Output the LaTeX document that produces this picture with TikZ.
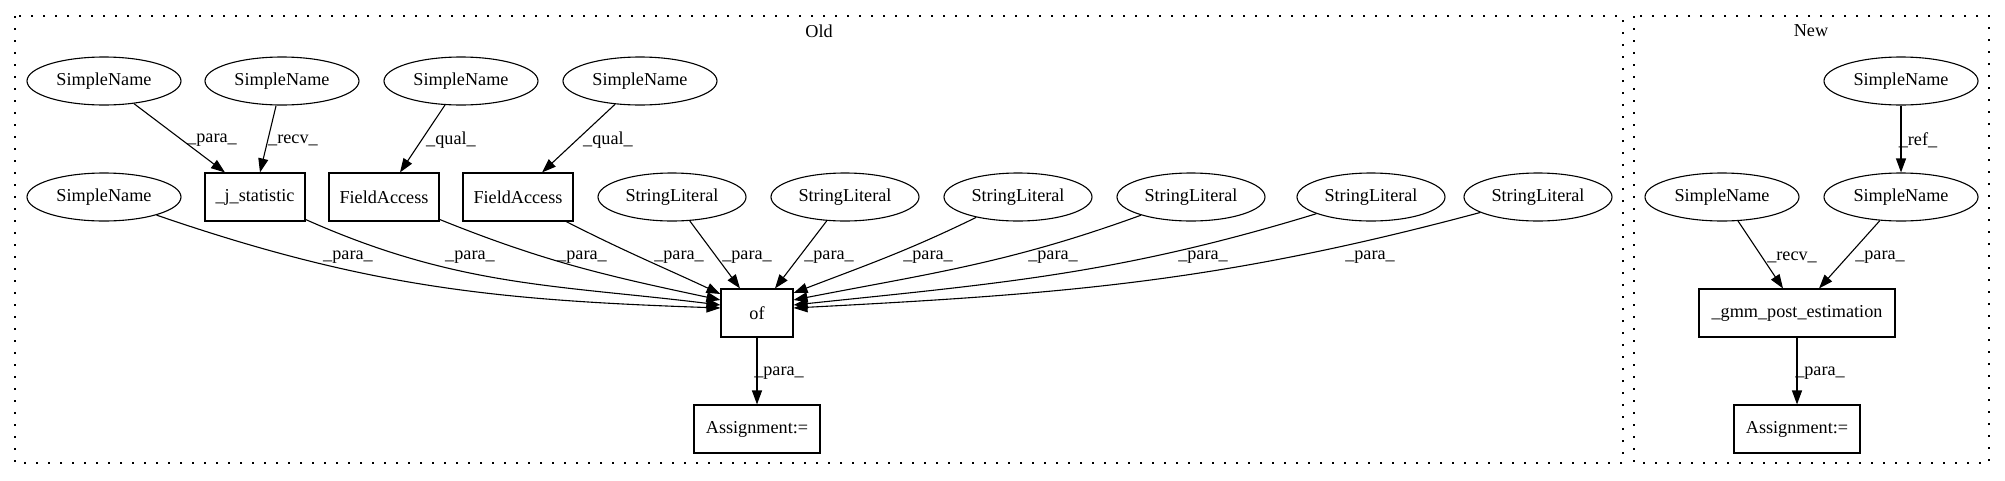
\documentclass[tikz,border=0pt]{standalone}
\usepackage{fontspec}
\setmainfont{Liberation Serif}
\usetikzlibrary{shapes.geometric,arrows.meta}

\begin{document}
\begin{tikzpicture}[x=1pt,y=-1pt,
	font=\fontsize{18.2}{22}\selectfont,
	line width=1.1pt,
	ell/.style={ellipse, draw, inner sep=0pt, minimum height=48pt},
	sname/.style={ell, minimum width=154pt},
	slit/.style={ell, minimum width=148pt},
	box/.style={rectangle, draw, inner sep=0pt, minimum height=48pt},
	edge/.style={-{Triangle[length=14pt,width=10pt]}},
	cluster/.style={draw, dash pattern=on 2pt off 10pt},
	lbl/.style={inner sep=0pt}]
	\useasboundingbox (0,0) rectangle (2005,480);
	%\draw[help lines] (0,0) grid[step=100] (2005,480);
	\draw[cluster] (15,16) rectangle (1623,463);
	\draw[cluster] (1634,16) rectangle (1989,463);
	\node[lbl] (old) at (819,31) {Old};
	\node[lbl] (new) at (1811,31) {New};
	% Old
	\node[sname] (sna) at (104,81) {SimpleName};
	\node[sname] (snb) at (282,81) {SimpleName};
	\node[sname] (snc) at (461,81) {SimpleName};
	\node[sname] (snd) at (640,81) {SimpleName};
	\node[sname] (sne) at (104,197) {SimpleName};
	\node[box, minimum width=100pt] (jstat) at (255,197) {\_j\_statistic};
	\node[box, minimum width=110pt] (fa1) at (384,197) {FieldAccess};
	\node[box, minimum width=110pt] (fa2) at (518,197) {FieldAccess};
	\foreach \n/\x in {1/672,2/845,3/1018,4/1191,5/1371,6/1538}
		\node[slit] (sl\n) at (\x,197) {StringLiteral};
	\node[box, minimum width=72pt] (of) at (757,313) {of};
	\node[box, minimum width=126pt] (asgo) at (757,429) {Assignment:=};
	\draw[edge] (sna) -- ([xshift=-30pt]jstat.north);
	\draw[edge] (snb) -- ([xshift=5pt]jstat.north);
	\draw[edge] (snc) -- ([xshift=16pt]fa1.north);
	\draw[edge] (snd) -- ([xshift=24pt]fa2.north);
	\draw[edge] (sne) to[out=-19,in=178] ([yshift=5pt]of.west);
	\draw[edge] (jstat) to[out=-24,in=173] ([yshift=8pt]of.west);
	\draw[edge] (fa1) to[out=-22,in=168] ([yshift=13pt]of.west);
	\draw[edge] (fa2) to[out=-27,in=155] ([yshift=19pt]of.west);
	\draw[edge] (sl1) -- ([xshift=-17pt]of.north);
	\draw[edge] (sl2) -- ([xshift=18pt]of.north);
	\draw[edge] (sl3) to[out=-154,in=21] ([yshift=20pt]of.east);
	\draw[edge] (sl4) to[out=-160,in=11] ([yshift=13pt]of.east);
	\draw[edge] (sl5) to[out=-163,in=6] ([yshift=8pt]of.east);
	\draw[edge] (sl6) to[out=-165,in=3] ([yshift=5pt]of.east);
	\draw[edge] (of) -- (asgo);
	\node[lbl] (la) at (212,140) {\_para\_};
	\node[lbl] (lb) at (293,140) {\_recv\_};
	\node[lbl] (lc) at (451,140) {\_qual\_};
	\node[lbl] (ld) at (608,140) {\_qual\_};
	\foreach \x [count=\i] in {348,470,582,679,747,829,928,1053,1203,1370}
		\node[lbl] (lp\i) at (\x,257) {\_para\_};
	\node[lbl] (lo) at (779,373) {\_para\_};
	% New
	\node[sname] (snt) at (1901,81) {SimpleName};
	\node[sname] (snr) at (1722,197) {SimpleName};
	\node[sname] (snp) at (1901,197) {SimpleName};
	\node[box, minimum width=196pt] (gmm) at (1797,313) {\_gmm\_post\_estimation};
	\node[box, minimum width=126pt] (asgn) at (1797,429) {Assignment:=};
	\draw[edge] (snt) -- (snp);
	\draw[edge] (snr) -- ([xshift=-14pt]gmm.north);
	\draw[edge] (snp) -- ([xshift=22pt]gmm.north);
	\draw[edge] (gmm) -- (asgn);
	\node[lbl] (lr) at (1918,140) {\_ref\_};
	\node[lbl] (ls) at (1792,257) {\_recv\_};
	\node[lbl] (lt) at (1880,257) {\_para\_};
	\node[lbl] (lu) at (1820,373) {\_para\_};
\end{tikzpicture}
\end{document}
